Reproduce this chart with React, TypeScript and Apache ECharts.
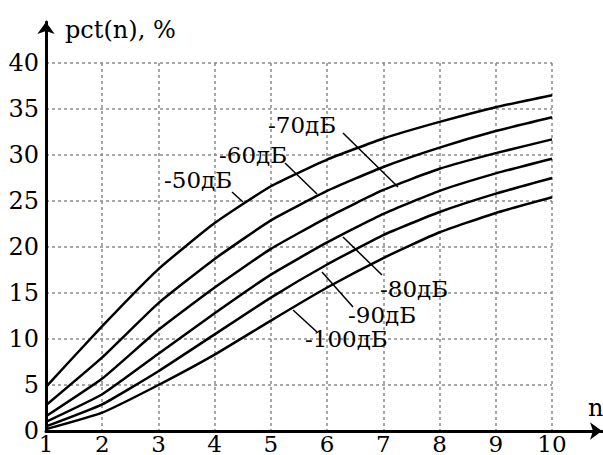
import React, { useEffect, useRef } from "react";
import * as echarts from "echarts";

const nValues = [1, 2, 3, 4, 5, 6, 7, 8, 9, 10];
const seriesNames = ["-50дБ", "-60дБ", "-70дБ", "-80дБ", "-90дБ", "-100дБ"];
const pct50 = [4.8, 11.4, 17.6, 22.6, 26.6, 29.5, 31.8, 33.6, 35.2, 36.5];
const pct60 = [2.8, 8.0, 13.9, 18.7, 22.9, 26.1, 28.7, 30.8, 32.6, 34.1];
const pct70 = [1.6, 5.7, 11.0, 15.6, 19.8, 23.2, 26.2, 28.5, 30.2, 31.7];
const pct80 = [1.0, 4.0, 8.4, 12.8, 17.0, 20.5, 23.6, 26.1, 28.0, 29.6];
const pct90 = [0.5, 2.9, 6.5, 10.5, 14.5, 18.1, 21.3, 23.8, 25.8, 27.5];
const pct100 = [0.2, 2.0, 5.0, 8.3, 12.0, 15.6, 18.8, 21.6, 23.7, 25.4];
const allSeries = [pct50, pct60, pct70, pct80, pct90, pct100];

const FONT = "DejaVu Serif";

export default function App() {
  const ref = useRef<HTMLDivElement>(null);
  useEffect(() => {
    if (!ref.current) return;
    const chart = echarts.init(ref.current, undefined, { renderer: "svg" });
    const gridLine = { show: true, lineStyle: { color: "#8a8a8a", width: 1.5, type: [3, 3] as any } };
    const labels = [
      { text: "-50дБ", x: 164, y: 180, lx1: 232, ly1: 192, lx2: 243, ly2: 202 },
      { text: "-60дБ", x: 219, y: 155, lx1: 285, ly1: 163, lx2: 317, ly2: 194 },
      { text: "-70дБ", x: 268, y: 125, lx1: 343, ly1: 133, lx2: 398, ly2: 187 },
      { text: "-80дБ", x: 380, y: 289, lx1: 343, ly1: 237, lx2: 382, ly2: 275 },
      { text: "-90дБ", x: 348, y: 315, lx1: 322, ly1: 272, lx2: 353, ly2: 307 },
      { text: "-100дБ", x: 305, y: 339, lx1: 293, ly1: 310, lx2: 317, ly2: 332 },
    ];
    const graphics: any[] = [];
    labels.forEach((l) => {
      graphics.push({
        type: "line",
        shape: { x1: l.lx1, y1: l.ly1, x2: l.lx2, y2: l.ly2 },
        style: { stroke: "#000", lineWidth: 1.5 },
        z: 10,
      });
      graphics.push({
        type: "text",
        x: l.x,
        y: l.y,
        style: { text: l.text, fontSize: 23, fontFamily: FONT, fill: "#000", align: "left", verticalAlign: "middle" },
        z: 11,
      });
    });
    graphics.push({
      type: "text",
      x: 65,
      y: 30,
      style: { text: "pct(n), %", fontSize: 24, fontFamily: FONT, fill: "#000", align: "left", verticalAlign: "middle" },
    });
    graphics.push({
      type: "text",
      x: 588,
      y: 408,
      style: { text: "n", fontSize: 24, fontFamily: FONT, fill: "#000", align: "left", verticalAlign: "middle" },
    });

    chart.setOption({
      animation: false,
      backgroundColor: "#fff",
      grid: [
        { left: 46, right: 51, top: 63, bottom: 24 },
        { left: 46, right: 1, top: 22, bottom: 24 },
      ],
      xAxis: [
        {
          type: "value",
          gridIndex: 0,
          min: 1,
          max: 10,
          interval: 1,
          axisLine: { show: false },
          axisTick: { show: false },
          axisLabel: { color: "#000", fontSize: 23, fontFamily: FONT, margin: 1 },
          splitLine: gridLine,
        },
        {
          type: "value",
          gridIndex: 1,
          min: 0,
          max: 1,
          axisLine: {
            show: true,
            onZero: false,
            symbol: ["none", "arrow"],
            symbolSize: [13, 12],
            lineStyle: { color: "#000", width: 3 },
          },
          axisTick: { show: false },
          axisLabel: { show: false },
          splitLine: { show: false },
        },
      ],
      yAxis: [
        {
          type: "value",
          gridIndex: 0,
          min: 0,
          max: 40,
          interval: 5,
          axisLine: { show: false },
          axisTick: { show: false },
          axisLabel: { color: "#000", fontSize: 24, fontFamily: FONT, margin: 7 },
          splitLine: gridLine,
        },
        {
          type: "value",
          gridIndex: 1,
          min: 0,
          max: 1,
          axisLine: {
            show: true,
            onZero: false,
            symbol: ["none", "arrow"],
            symbolSize: [13, 12],
            lineStyle: { color: "#000", width: 3 },
          },
          axisTick: { show: false },
          axisLabel: { show: false },
          splitLine: { show: false },
        },
      ],
      series: allSeries.map((vals, i) => ({
        name: seriesNames[i],
        type: "line",
        xAxisIndex: 0,
        yAxisIndex: 0,
        data: nValues.map((n, j) => [n, vals[j]]),
        showSymbol: false,
        smooth: 0.15,
        lineStyle: { color: "#000", width: 2.5 },
        z: 5,
      })),
      graphic: graphics,
    });
    return () => chart.dispose();
  }, []);
  return <div ref={ref} style={{ position: "fixed", left: 0, top: 0, width: 603, height: 455 }} />;
}
